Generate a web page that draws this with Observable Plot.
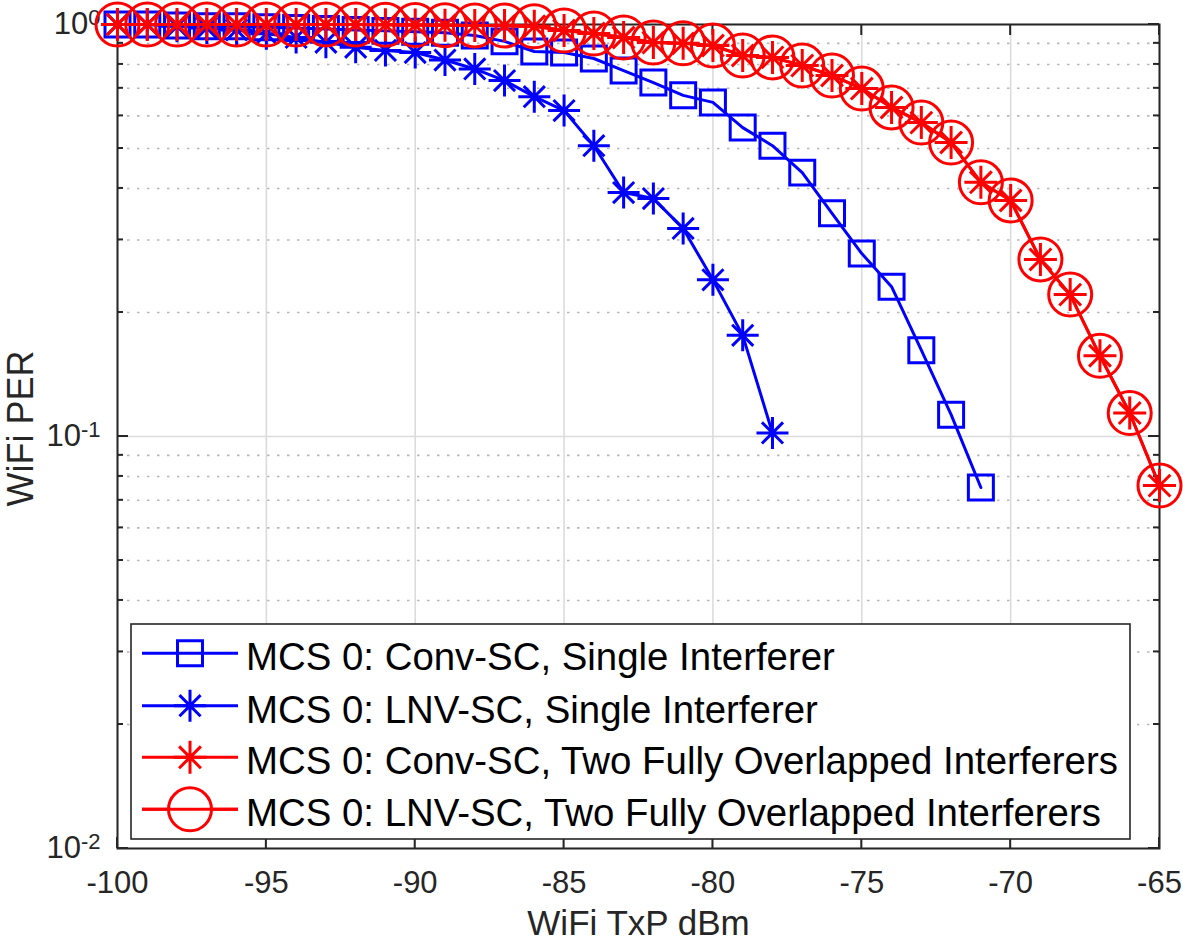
<!DOCTYPE html>
<html>
<head>
<meta charset="utf-8">
<script src="https://cdn.jsdelivr.net/npm/d3@7"></script>
<script src="https://cdn.jsdelivr.net/npm/@observablehq/plot@0.6"></script>
<style>
  body { margin: 0; background: #fff; }
  #chart svg { font-family: "Liberation Sans", Arial, Helvetica, sans-serif; }
</style>
</head>
<body>
<div id="chart"></div>
<script>
// ---- data ----
const txPower = [-100, -99, -98, -97, -96, -95, -94, -93, -92, -91, -90, -89, -88, -87, -86, -85, -84, -83,
                 -82, -81, -80, -79, -78, -77, -76, -75, -74, -73, -72, -71, -70, -69, -68, -67, -66, -65];

// MCS 0: Conv-SC, Single Interferer (-100 .. -71)
const convSingle = [1.0, 1.0, 0.995, 0.99, 0.99, 0.985, 0.98, 0.975, 0.97, 0.965, 0.96, 0.955, 0.94, 0.91,
                    0.86, 0.855, 0.827, 0.773, 0.723, 0.673, 0.647, 0.562, 0.508, 0.437, 0.348, 0.278,
                    0.231, 0.162, 0.113, 0.0752];

// MCS 0: LNV-SC, Single Interferer (-100 .. -78)
const lnvSingle = [1.0, 1.0, 0.99, 0.98, 0.97, 0.95, 0.93, 0.905, 0.88, 0.865, 0.855, 0.82, 0.78, 0.731,
                   0.668, 0.618, 0.508, 0.391, 0.378, 0.32, 0.24, 0.176, 0.102];

// MCS 0: Conv-SC, Two Fully Overlapped Interferers (-100 .. -65)
const convTwo = [1.0, 1.0, 1.0, 1.0, 1.0, 1.0, 1.0, 1.0, 1.0, 0.998, 0.997, 0.996, 0.995, 0.994, 0.99,
                 0.967, 0.951, 0.93, 0.904, 0.9, 0.889, 0.841, 0.832, 0.795, 0.752, 0.699, 0.629, 0.578,
                 0.517, 0.414, 0.374, 0.269, 0.221, 0.157, 0.114, 0.076];

// MCS 0: LNV-SC, Two Fully Overlapped Interferers (-100 .. -65)
const lnvTwo = [1.0, 1.0, 1.0, 1.0, 1.0, 1.0, 1.0, 1.0, 1.0, 0.998, 0.997, 0.996, 0.995, 0.994, 0.99,
                0.967, 0.951, 0.93, 0.904, 0.9, 0.889, 0.841, 0.832, 0.795, 0.752, 0.699, 0.629, 0.578,
                0.517, 0.414, 0.374, 0.269, 0.221, 0.157, 0.114, 0.076];

const seriesNames = [
  "MCS 0: Conv-SC, Single Interferer",
  "MCS 0: LNV-SC, Single Interferer",
  "MCS 0: Conv-SC, Two Fully Overlapped Interferers",
  "MCS 0: LNV-SC, Two Fully Overlapped Interferers"
];
const seriesColors = ["#0000ff", "#0000ff", "#ff0000", "#ff0000"];

const xTicks = [-100, -95, -90, -85, -80, -75, -70, -65];
const yTicks = [1, 0.1, 0.01];
const yTickBase = "10";
const yTickExps = ["0", "-1", "-2"];
const yMinor = [0.02, 0.03, 0.04, 0.05, 0.06, 0.07, 0.08, 0.09, 0.2, 0.3, 0.4, 0.5, 0.6, 0.7, 0.8, 0.9];

const xLabel = "WiFi TxP dBm";
const yLabel = "WiFi PER";

// ---- helpers ----
const rows = vals => vals.map((v, i) => ({x: txPower[i], y: v}));

// MATLAB-style 8-arm asterisk
const star = {
  draw(ctx, size) {
    const r = Math.sqrt(size / Math.PI);
    const d = r * 0.66;
    ctx.moveTo(-r, 0); ctx.lineTo(r, 0);
    ctx.moveTo(0, -r); ctx.lineTo(0, r);
    ctx.moveTo(-d, -d); ctx.lineTo(d, d);
    ctx.moveTo(-d, d); ctx.lineTo(d, -d);
  }
};

const markers = [
  {symbol: "square", r: 14.1},
  {symbol: star, r: 16},
  {symbol: star, r: 16.5},
  {symbol: "circle", r: 21.5}
];
const allSeries = [convSingle, lnvSingle, convTwo, lnvTwo];

const seriesMarks = allSeries.flatMap((vals, k) => [
  Plot.line(rows(vals), {x: "x", y: "y", stroke: seriesColors[k], strokeWidth: 3}),
  Plot.dot(rows(vals), {x: "x", y: "y", stroke: seriesColors[k], strokeWidth: 3, fill: "none",
                         symbol: markers[k].symbol, r: markers[k].r})
]);

const chart = Plot.plot({
  width: 1183,
  height: 941,
  marginLeft: 117,
  marginRight: 24,
  marginTop: 24,
  marginBottom: 93,
  style: {fontFamily: "'Liberation Sans', Arial, Helvetica, sans-serif", background: "#fff", color: "#262626"},
  x: {domain: [-100, -65]},
  y: {type: "log", domain: [0.01, 1]},
  marks: [
    Plot.ruleY(yMinor, {stroke: "#b8b8b8", strokeWidth: 1.6, strokeDasharray: "2.5,7.5"}),
    Plot.ruleX(xTicks, {stroke: "#dcdcdc", strokeWidth: 1.6}),
    Plot.ruleY(yTicks, {stroke: "#dcdcdc", strokeWidth: 1.6}),
    Plot.axisX({ticks: xTicks, tickSize: 0, tickPadding: 22, tickFormat: d => String(d),
                label: null, fontSize: 31, fill: "#262626"}),
    Plot.axisY({ticks: yTicks, tickSize: 0, tickPadding: 17,
                tickFormat: d => yTickBase + yTickExps[yTicks.indexOf(d)], label: null, fontSize: 31, fill: "#262626"}),
    Plot.frame({stroke: "#262626", strokeWidth: 2}),
    Plot.text([xLabel], {frameAnchor: "bottom", dy: 86, fontSize: 35, fill: "#262626"}),
    Plot.text([yLabel], {frameAnchor: "left", textAnchor: "middle", rotate: -90, dx: -96, dy: -8,
                         fontSize: 36, fill: "#262626"}),
    ...seriesMarks
  ]
});

document.getElementById("chart").appendChild(chart);

const svg = d3.select(chart);

// ---- y tick labels as 10 with superscript exponent ----
svg.selectAll("g[aria-label='y-axis tick label'] text").each(function () {
  const t = d3.select(this);
  const s = t.text();
  if (!s.startsWith(yTickBase)) return;
  const exp = s.slice(yTickBase.length);
  t.text(null);
  t.append("tspan").text(yTickBase);
  t.append("tspan").attr("font-size", 22).attr("dy", "-0.45em").text(exp);
});

// ---- inward tick marks (MATLAB box style) ----
const sx = chart.scale("x"), sy = chart.scale("y");
const x0 = sx.apply(-100), x1 = sx.apply(-65);
const y0 = sy.apply(1), y1 = sy.apply(0.01);
const tickG = svg.insert("g", "g[aria-label='line']").attr("stroke", "#262626").attr("stroke-width", 2);
xTicks.forEach(t => {
  const px = sx.apply(t);
  tickG.append("line").attr("x1", px).attr("x2", px).attr("y1", y1).attr("y2", y1 - 11);
  tickG.append("line").attr("x1", px).attr("x2", px).attr("y1", y0).attr("y2", y0 + 11);
});
yTicks.forEach(t => {
  const py = sy.apply(t);
  tickG.append("line").attr("x1", x0).attr("x2", x0 + 11).attr("y1", py).attr("y2", py);
  tickG.append("line").attr("x1", x1).attr("x2", x1 - 11).attr("y1", py).attr("y2", py);
});
yMinor.forEach(t => {
  const py = sy.apply(t);
  tickG.append("line").attr("x1", x0).attr("x2", x0 + 6).attr("y1", py).attr("y2", py);
  tickG.append("line").attr("x1", x1).attr("x2", x1 - 6).attr("y1", py).attr("y2", py);
});

// ---- legend (inside the axes, lower part) ----
const leg = svg.append("g").attr("font-family", "'Liberation Sans', Arial, Helvetica, sans-serif")
  .attr("text-anchor", "start");
leg.append("rect").attr("x", 131).attr("y", 624).attr("width", 999).attr("height", 215)
   .attr("fill", "#fff").attr("stroke", "#262626").attr("stroke-width", 1.6);
const rowY = [653.3, 705.7, 757.3, 809.3];
seriesNames.forEach((name, k) => {
  const y = rowY[k];
  const g = leg.append("g");
  g.append("line").attr("x1", 142).attr("x2", 238).attr("y1", y).attr("y2", y)
    .attr("stroke", seriesColors[k]).attr("stroke-width", 3);
  const sym = markers[k].symbol === "square" ? d3.symbolSquare
            : markers[k].symbol === "circle" ? d3.symbolCircle : markers[k].symbol;
  g.append("path").attr("transform", `translate(190,${y})`)
    .attr("d", d3.symbol(sym, markers[k].r * markers[k].r * Math.PI)())
    .attr("fill", k === 3 ? "#fff" : "none").attr("stroke", seriesColors[k]).attr("stroke-width", 3);
  if (k === 3) {
    g.append("line").attr("x1", 142).attr("x2", 238).attr("y1", y).attr("y2", y)
      .attr("stroke", seriesColors[k]).attr("stroke-width", 3);
  }
  g.append("text").attr("x", 246).attr("y", y + 17).attr("font-size", 38.4)
    .attr("text-anchor", "start").attr("fill", "#000").text(name);
});
</script>
</body>
</html>
